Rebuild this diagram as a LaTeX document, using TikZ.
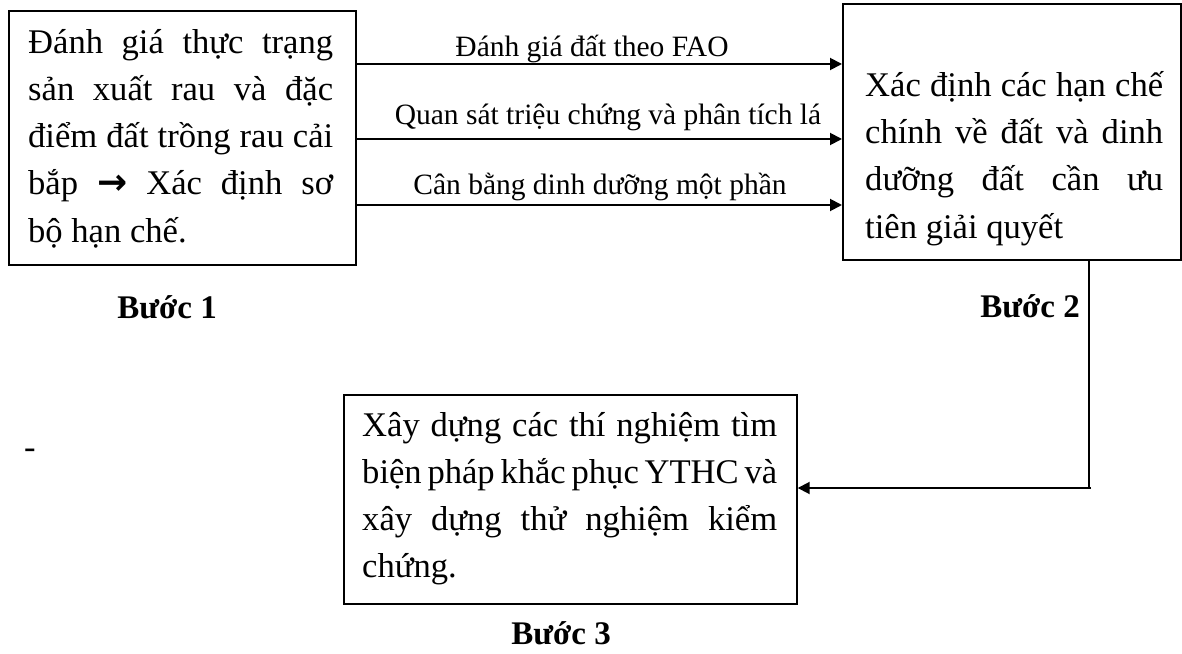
\documentclass[tikz,border=0pt]{standalone}
\usepackage{fontspec}
\setmainfont{Liberation Serif}
\newfontfamily\arrowfont{DejaVu Sans}
\usetikzlibrary{arrows.meta}
\newcommand\justlines[2]{\parbox[t]{#1}{\spaceskip=0.25em plus 0.4em minus 0.11em\relax #2}}
\begin{document}
\begin{tikzpicture}[x=1bp,y=-1bp,
  frame/.style={draw, line width=1.7bp, inner sep=0pt, anchor=north west},
  body/.style={inner sep=0pt, anchor=base west, font=\fontsize{34.6bp}{47bp}\selectfont},
  flow/.style={line width=1.9bp, -{Triangle[length=12bp,width=12bp]}},
  cue/.style={inner sep=0pt, anchor=base, font=\fontsize{29.5bp}{36bp}\selectfont},
  stage/.style={inner sep=0pt, anchor=base, font=\fontsize{33bp}{40bp}\selectfont\bfseries}]
\useasboundingbox (0,0) rectangle (1182,654);

% Step 1 box
\node[frame, minimum width=347bp, minimum height=254bp] (b1) at (8,10) {};
\node[body] (t1) at (28,54) {\justlines{305bp}{Đánh giá thực trạng\linebreak
  sản xuất rau và đặc\linebreak
  điểm đất trồng rau cải\linebreak
  bắp {\arrowfont\bfseries\fontsize{36bp}{40bp}\selectfont →} Xác định sơ\linebreak
  bộ hạn chế.}};

% Step 2 box
\node[frame, minimum width=338bp, minimum height=256bp] (b2) at (842,3) {};
\node[body] (t2) at (865,97) {\justlines{298bp}{Xác định các hạn chế\linebreak
  chính về đất và dinh\linebreak
  dưỡng đất cần ưu\linebreak
  tiên giải quyết}};

% Step 3 box
\node[frame, minimum width=453bp, minimum height=209bp] (b3) at (343,394) {};
\node[body] (t3) at (362,436) {\justlines{415bp}{Xây dựng các thí nghiệm tìm\linebreak
  biện pháp khắc phục YTHC và\linebreak
  xây dựng thử nghiệm kiểm\linebreak
  chứng.}};

% Methods linking step 1 to step 2
\draw[flow] (b1.east |- 0,64) -- (b2.west |- 0,64);
\draw[flow] (b1.east |- 0,139) -- (b2.west |- 0,139);
\draw[flow] (b1.east |- 0,205) -- (b2.west |- 0,205);
\node[cue] (m1) at (592,57) {Đánh giá đất theo FAO};
\node[cue] (m2) at (608,125) {Quan sát triệu chứng và phân tích lá};
\node[cue] (m3) at (600,195) {Cân bằng dinh dưỡng một phần};

% Step labels
\node[stage] (s1) at (167,318) {Bước 1};
\node[stage] (s2) at (1030,317) {Bước 2};
\node[stage] (s3) at (561,644) {Bước 3};

% Stray dash
\node[body] (dash) at (24,458) {-};

% Link from step 2 down to step 3
\coordinate (turn) at (1089,488);
\draw[line width=1.3bp] (b2.south -| turn) -- (turn);
\draw[flow] (1091,488) -- (b3.east |- turn);
\end{tikzpicture}
\end{document}
